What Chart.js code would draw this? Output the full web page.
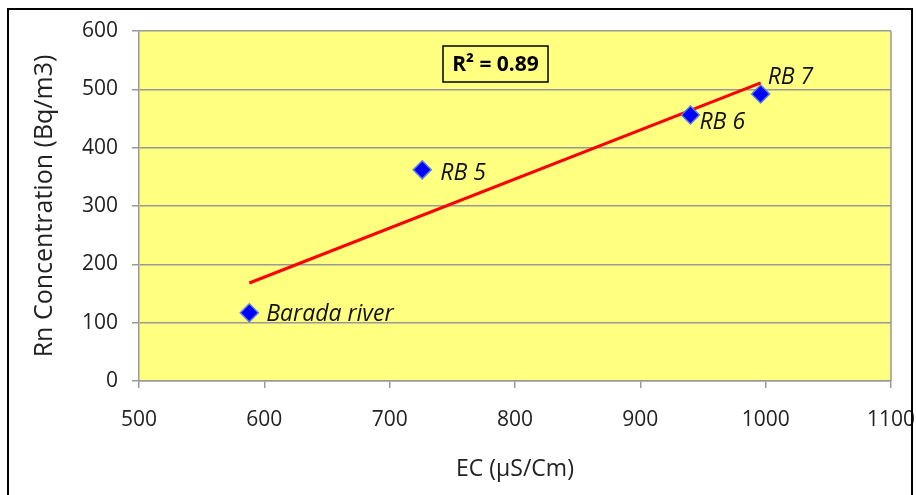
<!DOCTYPE html>
<html>
<head>
<meta charset="utf-8">
<script src="https://cdn.jsdelivr.net/npm/chart.js@4.4.0/dist/chart.umd.min.js"></script>
<style>
html,body{margin:0;padding:0;background:#fff;}
#wrap{width:916px;height:495px;position:relative;}
</style>
</head>
<body>
<div id="wrap"><canvas id="c" width="916" height="495"></canvas></div>
<script>
const sampleNames = ['Barada river', 'RB 5', 'RB 6', 'RB 7'];
const ecValues = [588, 726, 940, 996];
const rnValues = [117, 362, 456, 492];
const trendX = [588, 996];
const trendY = [168, 511];
const rSquaredText = 'R² = 0.89';
const xTitle = 'EC (µS/Cm)';
const yTitle = 'Rn Concentration (Bq/m3)';

const FONT = "'Open Sans', sans-serif";
const labelOffsets = [[17, 2], [18, 4], [9, 7], [7, -17]];

const framePlugin = {
  id: 'frame',
  beforeDraw(chart) {
    const {ctx, chartArea: a} = chart;
    ctx.save();
    ctx.fillStyle = '#ffffff';
    ctx.fillRect(0, 0, chart.width, chart.height);
    ctx.fillStyle = '#FFFF80';
    ctx.fillRect(a.left, a.top, a.right - a.left, a.bottom - a.top);
    ctx.restore();
  },
  afterDraw(chart) {
    const {ctx, chartArea: a} = chart;
    ctx.save();
    ctx.strokeStyle = '#999999';
    ctx.lineWidth = 1.5;
    ctx.beginPath();
    ctx.moveTo(a.right, a.top);
    ctx.lineTo(a.right, a.bottom);
    ctx.stroke();
    // outer black frame
    ctx.strokeStyle = '#000';
    ctx.lineWidth = 2;
    ctx.strokeRect(8, 9, 904, 500);
    // data labels
    const meta = chart.getDatasetMeta(1);
    ctx.fillStyle = '#111';
    ctx.font = 'italic 23px ' + FONT;
    ctx.textBaseline = 'middle';
    ctx.textAlign = 'left';
    meta.data.forEach((pt, i) => {
      const o = labelOffsets[i];
      ctx.fillText(sampleNames[i], pt.x + o[0], pt.y + o[1]);
    });
    // R² box
    const bx = a.left + 304, by = a.top + 15, bw = 105, bh = 36;
    ctx.strokeStyle = '#000';
    ctx.lineWidth = 1.5;
    ctx.strokeRect(bx, by, bw, bh);
    ctx.font = 'bold 21px ' + FONT;
    ctx.textAlign = 'center';
    ctx.fillStyle = '#000';
    ctx.fillText(rSquaredText, bx + bw / 2, by + bh / 2 + 1);
    ctx.restore();
  }
};

new Chart(document.getElementById('c'), {
  type: 'scatter',
  data: {
    datasets: [
      {
        type: 'line',
        data: trendX.map((x, i) => ({x, y: trendY[i]})),
        borderColor: '#FF0000',
        borderWidth: 3,
        pointRadius: 0,
        fill: false,
        order: 2
      },
      {
        data: ecValues.map((x, i) => ({x, y: rnValues[i]})),
        pointStyle: 'rectRot',
        pointRadius: 9,
        backgroundColor: '#0000FF',
        borderColor: '#5a7fe0',
        borderWidth: 1.5,
        order: 1
      }
    ]
  },
  options: {
    responsive: false,
    animation: false,
    devicePixelRatio: 1,
    layout: {padding: {left: 0, right: 25, top: 31, bottom: 0}},
    plugins: {legend: {display: false}, tooltip: {enabled: false}},
    scales: {
      x: {
        type: 'linear',
        min: 500, max: 1100,
        ticks: {stepSize: 100, color: '#222', font: {family: FONT, size: 21}, padding: 19, maxRotation: 0,
                callback: v => String(v)},
        grid: {drawOnChartArea: false, drawTicks: true, tickLength: 7, color: '#999999', lineWidth: 1.5},
        border: {color: '#999999', width: 1.5},
        title: {display: true, text: xTitle, color: '#222', font: {family: FONT, size: 23}, padding: {top: 4, bottom: 12}},
        afterFit(s) { s.height = 114; s.paddingLeft = 0; s.paddingRight = 0; }
      },
      y: {
        type: 'linear',
        min: 0, max: 600,
        ticks: {stepSize: 100, color: '#222', font: {family: FONT, size: 21}, padding: 14,
                callback: v => String(v)},
        grid: {drawOnChartArea: true, drawTicks: true, tickLength: 7, color: '#999999', lineWidth: 1.5},
        border: {color: '#999999', width: 1.5},
        title: {display: true, text: yTitle, color: '#222', font: {family: FONT, size: 25}, padding: {top: 30, bottom: 0}},
        afterFit(s) { s.width = 139; }
      }
    }
  },
  plugins: [framePlugin]
});
</script>
</body>
</html>
